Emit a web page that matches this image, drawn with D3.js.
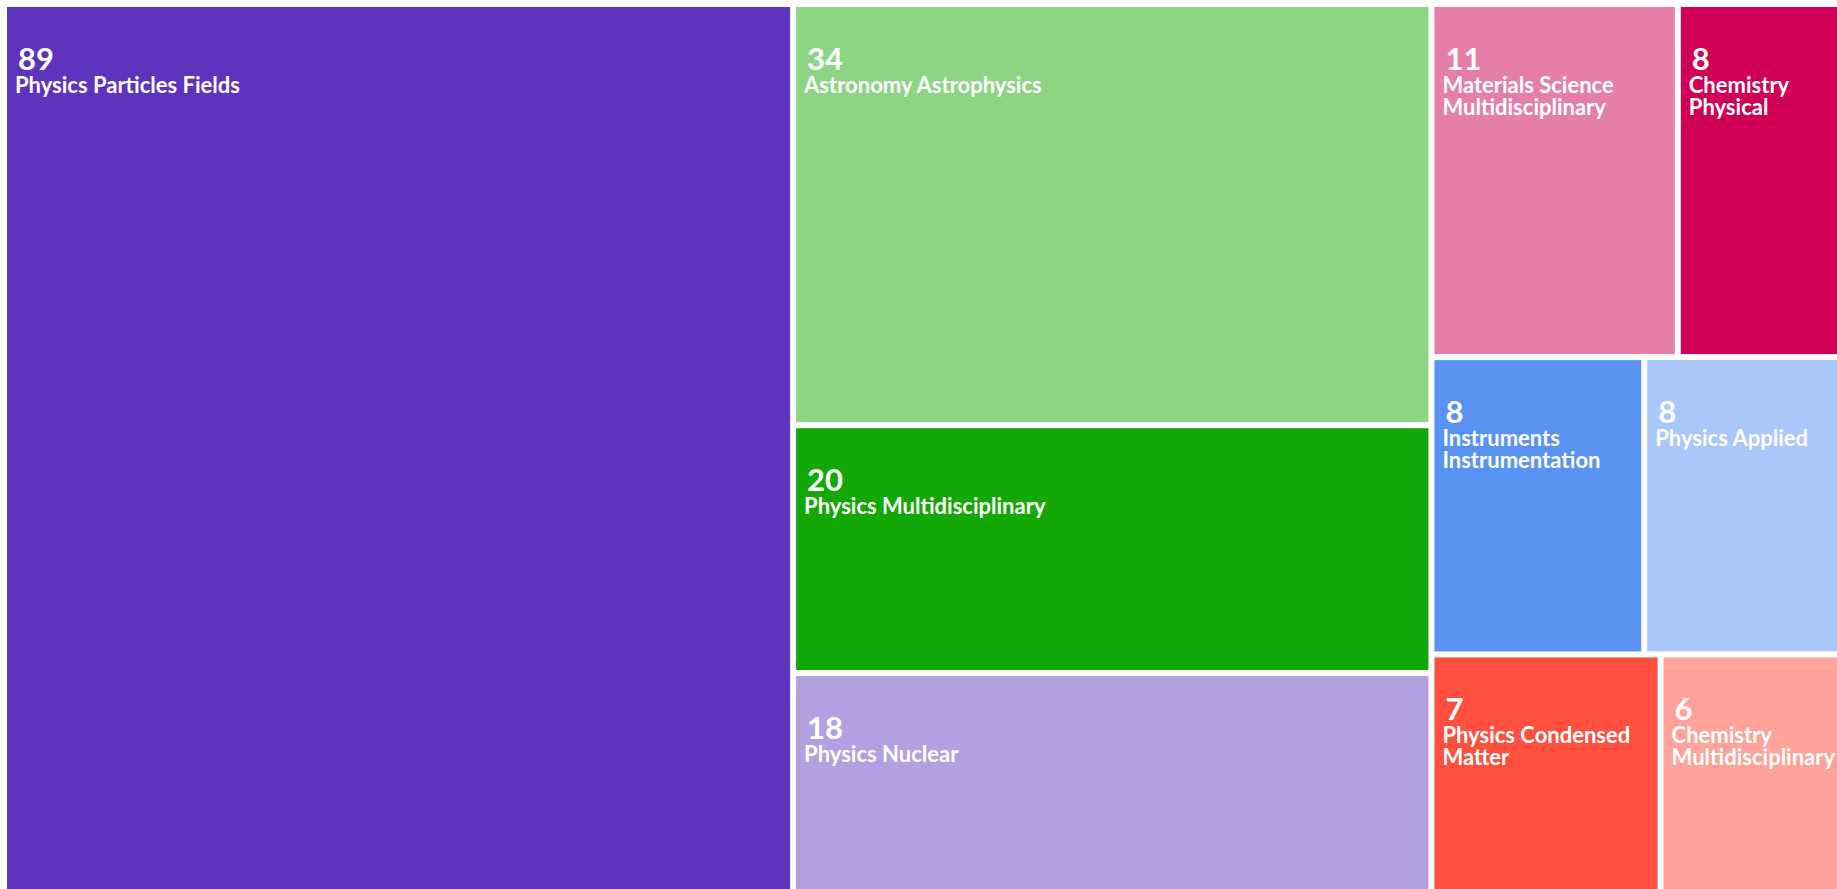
<!DOCTYPE html>
<meta charset="utf-8">
<script src="https://d3js.org/d3.v7.min.js"></script>
<style type="text/css">
body { margin: 0; background: #fff; overflow: hidden; }
svg { display: block; }
text { font-family: Lato, "Open Sans", sans-serif; fill: #fff; }
</style>
<body>
<svg width="1837" height="889"></svg>
<script>
  var categories = [
    'Physics Particles Fields',
    'Astronomy Astrophysics',
    'Physics Multidisciplinary',
    'Physics Nuclear',
    'Materials Science Multidisciplinary',
    'Chemistry Physical',
    'Instruments Instrumentation',
    'Physics Applied',
    'Physics Condensed Matter',
    'Chemistry Multidisciplinary'
  ];
  var counts = [89, 34, 20, 18, 11, 8, 8, 8, 7, 6];

  var palette = ['#5e33be', '#8dd585', '#14a806', '#b3a0e0', '#e57fa8',
                 '#d00057', '#5893f4', '#a9c7f8', '#ff4f3e', '#ffa39a'];

  var svg = d3.select('svg');
  var color = d3.scaleOrdinal(categories, palette);

  // layout is a bit bigger than the window, the page clips it right and bottom
  var width = 1853, height = 892, gap = 3;

  var root = d3.hierarchy({children: categories.map(function(c, i){ return {name: c, value: counts[i]}; })})
    .sum(function(d){ return d.value || 0; })
    .sort(function(a, b){ return b.value - a.value; });

  d3.treemap()
    .tile(d3.treemapSquarify)
    .size([width, height])(root);

  var g = svg.append('g').attr('transform', 'translate(4,4)');

  var cell = g.selectAll('g.cell')
    .data(root.leaves())
    .enter()
    .append('g')
    .attr('class', 'cell')
    .attr('transform', function(d){ return 'translate(' + (d.x0 + gap) + ',' + (d.y0 + gap) + ')'; });

  cell.append('rect')
    .attr('width', function(d){ return d.x1 - d.x0 - 2 * gap; })
    .attr('height', function(d){ return d.y1 - d.y0 - 2 * gap; })
    .attr('fill', function(d){ return color(d.data.name); });

  /* ----------- value ----------- */

  cell.append('text')
    .attr('class', 'value')
    .attr('x', 11)
    .attr('y', 63)
    .attr('font-size', 31)
    .attr('font-weight', 700)
    .text(function(d){ return d.value; });

  /* ----------- label, wrapped to the cell ----------- */

  cell.append('text')
    .attr('class', 'label')
    .attr('x', 8)
    .attr('y', 86)
    .attr('font-size', 22)
    .attr('font-weight', 700)
    .each(function(d){
      var el = d3.select(this),
          maxW = d.x1 - d.x0 - 2 * gap - 16,
          words = d.data.name.split(' '),
          line = [],
          tspan = el.append('tspan').attr('x', 8).attr('dy', 0);
      words.forEach(function(w){
        line.push(w);
        tspan.text(line.join(' '));
        if (tspan.node().getComputedTextLength() > maxW && line.length > 1) {
          line.pop();
          tspan.text(line.join(' '));
          line = [w];
          tspan = el.append('tspan').attr('x', 8).attr('dy', 22).text(w);
        }
      });
    });
</script>
</body>
